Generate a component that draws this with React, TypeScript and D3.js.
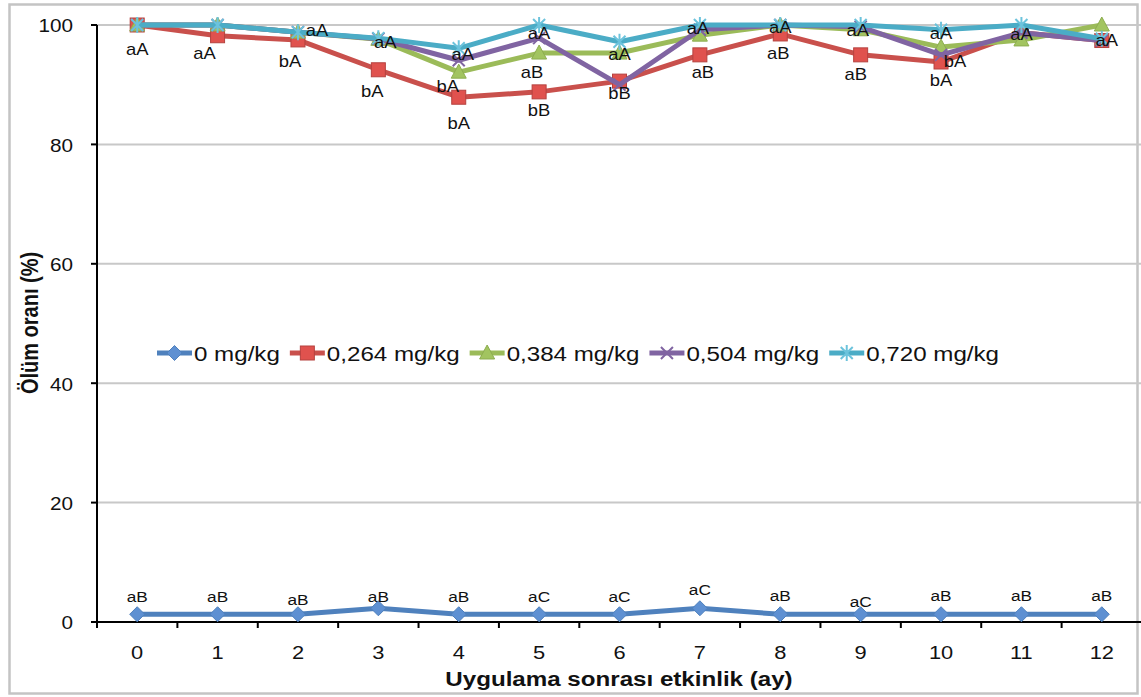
import { useEffect, useRef } from "react";
import * as d3 from "d3";

const months = ["0", "1", "2", "3", "4", "5", "6", "7", "8", "9", "10", "11", "12"];
const yTicks = [0, 20, 40, 60, 80, 100];

const seriesNames = ["0 mg/kg", "0,264 mg/kg", "0,384 mg/kg", "0,504 mg/kg", "0,720 mg/kg"];
const s0 = [1.3, 1.3, 1.3, 2.3, 1.3, 1.3, 1.3, 2.3, 1.3, 1.3, 1.3, 1.3, 1.3];
const s264 = [100, 98.2, 97.5, 92.5, 87.9, 88.8, 90.6, 95, 98.5, 95, 93.8, 98.7, 97.4];
const s384 = [100, 100, 98.8, 97.6, 92.1, 95.3, 95.3, 98.3, 100, 99.2, 96.3, 97.5, 100];
const s504 = [100, 100, 98.8, 97.7, 94.1, 97.8, 90, 99.2, 100, 99.7, 95, 98.7, 97.4];
const s720 = [100, 100, 98.8, 97.8, 96.1, 100, 97.2, 100, 100, 100, 99.2, 100, 97.7];

// significance letters
const lbl0 = ["aB", "aB", "aB", "aB", "aB", "aC", "aC", "aC", "aB", "aC", "aB", "aB", "aB"];
const lbl264 = ["aA", "aA", "bA", "bA", "bA", "bB", "bB", "aB", "aB", "aB", "bA", null, null];
const lbl384 = [null, null, null, null, "bA", "aB", null, null, null, null, null, null, null];
const lbl504 = [null, null, null, null, null, null, null, null, null, null, "bA", null, null];
const lbl720 = [null, null, "aA", "aA", "aA", "aA", "aA", "aA", "aA", "aA", "aA", "aA", "aA"];

// label offsets from their point, px
const off0 = [[0, -18], [0, -18], [0, -15], [0, -12], [0, -18], [0, -18], [0, -18], [0, -19], [0, -19], [0, -13], [0, -19], [0, -19], [0, -19]];
const off264 = [[0, 24], [-13, 18], [-8, 22], [-6, 22], [0, 26], [0, 19], [0, 12], [3, 18], [-2, 19], [-5, 20], [0, 18], [0, 0], [0, 0]];
const off384 = [[0, 0], [0, 0], [0, 0], [0, 0], [-11, 14], [-7, 19], [0, 0], [0, 0], [0, 0], [0, 0], [0, 0], [0, 0], [0, 0]];
const off504 = [[0, 0], [0, 0], [0, 0], [0, 0], [0, 0], [0, 0], [0, 0], [0, 0], [0, 0], [0, 0], [14, 7], [0, 0], [0, 0]];
const off720 = [[0, 0], [0, 0], [19, -2], [7, 4], [4, 6], [0, 8], [0, 13], [-2, 3], [0, 2], [-3, 5], [0, 4], [0, 9], [5, 2]];

const colors = ["#4F81BD", "#C9504C", "#9BBB59", "#8064A2", "#4BACC6"];
const markers = ["diamond", "square", "triangle", "x", "star"];

const W = 1141;
const H = 697;
const SX = 1.15; // the source picture is a bit wide-stretched
const FONT = "'Liberation Sans', Arial, sans-serif";

const addText = (g, x, y, s, size, anchor = "middle", bold = false) =>
  g
    .append("text")
    .attr("transform", `translate(${x},${y}) scale(${SX},1)`)
    .attr("text-anchor", anchor)
    .attr("dominant-baseline", "central")
    .attr("font-family", FONT)
    .attr("font-size", size)
    .attr("font-weight", bold ? "bold" : "normal")
    .attr("fill", "#111")
    .text(s);

const drawMarker = (g, kind, x, y, color) => {
  const m = g.append("g").attr("transform", `translate(${x},${y})`);
  if (kind === "diamond") {
    m.append("path").attr("d", "M0,-7.5L7.5,0L0,7.5L-7.5,0Z").attr("fill", "#5E90D2").attr("stroke", color).attr("stroke-width", 1);
  } else if (kind === "square") {
    m.append("rect").attr("x", -7).attr("y", -7).attr("width", 14).attr("height", 14).attr("fill", "#E0524E").attr("stroke", "#B5423F").attr("stroke-width", 1);
  } else if (kind === "triangle") {
    m.append("path").attr("d", "M0,-8L7.5,6L-7.5,6Z").attr("fill", "#A2C460").attr("stroke", "#8DAD50").attr("stroke-width", 1);
  } else if (kind === "x") {
    m.append("path").attr("d", "M-6,-6L6,6M-6,6L6,-6").attr("stroke", color).attr("stroke-width", 2);
  } else {
    m.append("path").attr("d", "M-6,-6L6,6M-6,6L6,-6M0,-8L0,8").attr("stroke", "#6CC3DC").attr("stroke-width", 2);
  }
};

export default function App() {
  const ref = useRef(null);

  useEffect(() => {
    const svg = d3.select(ref.current);
    svg.selectAll("*").remove();

    const x = d3.scaleBand().domain(months).range([97, 1142]);
    const cx = (m) => x(m) + x.bandwidth() / 2;
    const y = d3.scaleLinear().domain([0, 100]).range([622, 25]);

    // outer frame
    svg.append("rect").attr("x", 0).attr("y", 0).attr("width", W).attr("height", H).attr("fill", "#fff");
    svg.append("rect").attr("x", 9.5).attr("y", 4.5).attr("width", 1128).attr("height", 689)
      .attr("fill", "none").attr("stroke", "#c4c4c4").attr("stroke-width", 2.5);

    // grid
    svg.append("g").selectAll("line").data(yTicks.filter((t) => t > 0)).join("line")
      .attr("x1", 97).attr("x2", 1142).attr("y1", (d) => y(d)).attr("y2", (d) => y(d))
      .attr("stroke", "#c8c8c8").attr("stroke-width", 2);

    // axes
    const ax = svg.append("g").attr("stroke", "#000").attr("stroke-width", 2);
    ax.append("line").attr("x1", 97).attr("x2", 97).attr("y1", y(100)).attr("y2", y(0) + 6);
    ax.append("line").attr("x1", 91).attr("x2", 1142).attr("y1", y(0)).attr("y2", y(0));
    ax.selectAll(".yt").data(yTicks).join("line").attr("class", "yt")
      .attr("x1", 91).attr("x2", 97).attr("y1", (d) => y(d)).attr("y2", (d) => y(d));
    ax.selectAll(".xt").data(months.slice(1)).join("line").attr("class", "xt")
      .attr("x1", (d) => x(d)).attr("x2", (d) => x(d)).attr("y1", y(0)).attr("y2", y(0) + 6);

    const tl = svg.append("g");
    yTicks.forEach((t) => addText(tl, 73, y(t) + 1, String(t), 18, "end"));
    months.forEach((m) => addText(tl, cx(m), 652, m, 19));

    addText(svg, 619, 679, "Uygulama sonrası etkinlik (ay)", 21, "middle", true);
    svg.append("text")
      .attr("transform", `translate(30,323) scale(${SX},1) rotate(-90)`)
      .attr("text-anchor", "middle").attr("dominant-baseline", "central")
      .attr("font-family", FONT).attr("font-size", 20).attr("font-weight", "bold").attr("fill", "#111")
      .text("Ölüm oranı (%)");

    // series
    const all = [s0, s264, s384, s504, s720];
    const line = d3.line().x((d, i) => cx(months[i])).y((d) => y(d));
    all.forEach((vals, si) => {
      const g = svg.append("g");
      g.append("path").attr("d", line(vals)).attr("fill", "none").attr("stroke", colors[si])
        .attr("stroke-width", 5).attr("stroke-linejoin", "round");
      vals.forEach((v, i) => drawMarker(g, markers[si], cx(months[i]), y(v), colors[si]));
    });

    // letters
    const lbls = [lbl0, lbl264, lbl384, lbl504, lbl720];
    const offs = [off0, off264, off384, off504, off720];
    const lg = svg.append("g");
    lbls.forEach((arr, si) => {
      arr.forEach((t, i) => {
        if (!t) return;
        const [dx, dy] = offs[si][i];
        addText(lg, cx(months[i]) + dx, y(all[si][i]) + dy, t, si === 0 ? 15 : 16);
      });
    });

    // legend
    const leg = svg.append("g");
    let lx = 157;
    const ly = 353;
    seriesNames.forEach((name, si) => {
      leg.append("line").attr("x1", lx).attr("x2", lx + 35).attr("y1", ly).attr("y2", ly)
        .attr("stroke", colors[si]).attr("stroke-width", 5);
      drawMarker(leg, markers[si], lx + 17.5, ly, colors[si]);
      const t = addText(leg, lx + 37, ly + 1, name, 21, "start");
      const w = t.node().getComputedTextLength() * SX;
      lx += 37 + w + 10;
    });
  }, []);

  return (
    <svg
      ref={ref}
      width={W}
      height={H}
      style={{ position: "absolute", left: 0, top: 0, background: "#fff" }}
    />
  );
}
